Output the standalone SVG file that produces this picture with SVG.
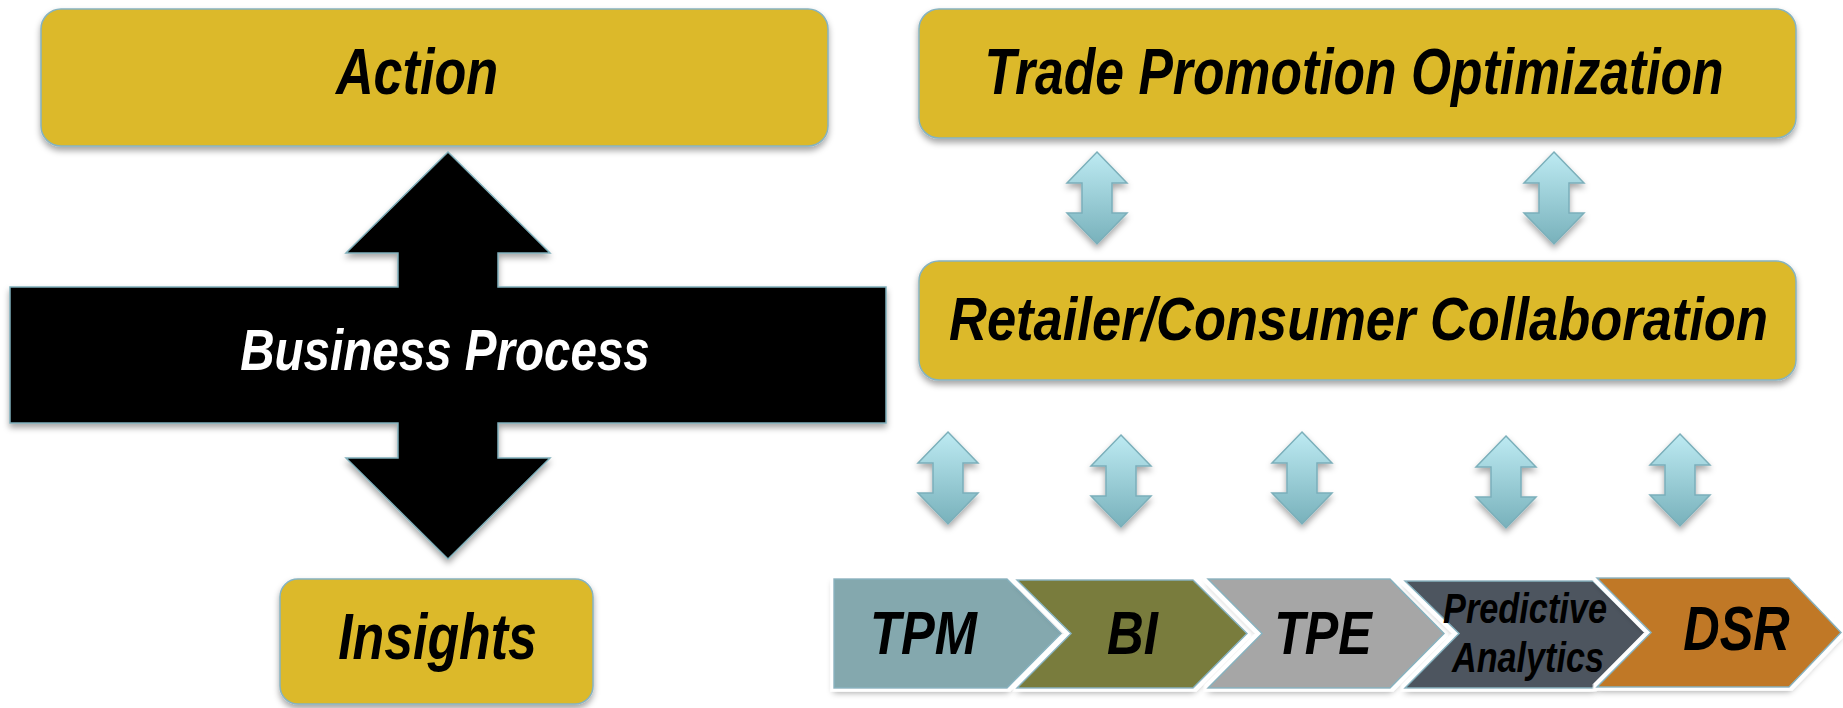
<svg xmlns="http://www.w3.org/2000/svg" xmlns:xlink="http://www.w3.org/1999/xlink" width="1843" height="708" viewBox="0 0 1843 708">
  <style>
    .box { fill: #DCB92C; stroke: #86B3C0; stroke-width: 1.5; }
    .lbl { font-family: "Liberation Sans", Arial, sans-serif; font-weight: bold; font-style: italic; fill: #000; text-anchor: middle; }
    .wlbl { fill: #fff; }
    .chev { stroke: #86B3C0; stroke-width: 1.5; }
    .dbl { fill: url(#dblGrad); stroke: #7BAFBA; stroke-width: 1.5; }
  </style>
  <defs>
    <filter id="shadow" x="-10%" y="-20%" width="120%" height="150%">
      <feDropShadow dx="0" dy="4" stdDeviation="3" flood-color="#000" flood-opacity="0.35"/>
    </filter>
    <filter id="chevShadow" x="-10%" y="-20%" width="120%" height="150%">
      <feMorphology in="SourceAlpha" operator="dilate" radius="3" result="halo"/>
      <feFlood flood-color="#fff"/>
      <feComposite in2="halo" operator="in" result="white"/>
      <feDropShadow in="SourceAlpha" dx="0" dy="4" stdDeviation="3" flood-color="#000" flood-opacity="0.35" result="drop"/>
      <feMerge>
        <feMergeNode in="drop"/>
        <feMergeNode in="white"/>
        <feMergeNode in="SourceGraphic"/>
      </feMerge>
    </filter>
    <linearGradient id="dblGrad" x1="0" y1="0" x2="0" y2="1">
      <stop offset="0" stop-color="#BDEAF2"/>
      <stop offset="1" stop-color="#78B1BB"/>
    </linearGradient>
    <!-- vertical double-headed arrow, top tip at origin -->
    <path id="dblArrow" class="dbl" d="M0,0 L30,31 L15,31 L15,61 L30,61 L0,92 L-30,61 L-15,61 L-15,31 L-30,31 Z"/>
  </defs>

  <!-- left column -->
  <g id="action">
    <rect class="box" x="41" y="9" width="787" height="137" rx="20" filter="url(#shadow)"/>
    <text class="lbl" transform="translate(417,94) scale(0.815,1)" font-size="64">Action</text>
  </g>

  <g id="business-process">
    <path d="M448,152 L550,253 L498,253 L498,287 L886,287 L886,423 L498,423 L498,458 L550,458 L448,559 L346,458 L398,458 L398,423 L10,423 L10,287 L398,287 L398,253 L346,253 Z" fill="#000" stroke="#7FAFBA" stroke-width="1.5" filter="url(#shadow)"/>
    <text class="lbl wlbl" transform="translate(445,370) scale(0.82,1)" font-size="58">Business Process</text>
  </g>

  <g id="insights">
    <rect class="box" x="280" y="579" width="313" height="125" rx="18" filter="url(#shadow)"/>
    <text class="lbl" transform="translate(437.5,659) scale(0.81,1)" font-size="64">Insights</text>
  </g>

  <!-- right column -->
  <g id="trade-promotion-optimization">
    <rect class="box" x="919" y="9" width="877" height="129" rx="20" filter="url(#shadow)"/>
    <text class="lbl" transform="translate(1354,94) scale(0.807,1)" font-size="64">Trade Promotion Optimization</text>
  </g>

  <g id="retailer-consumer-collaboration">
    <rect class="box" x="919" y="261" width="877" height="119" rx="20" filter="url(#shadow)"/>
    <text class="lbl" transform="translate(1358.5,340) scale(0.86,1)" font-size="61">Retailer/Consumer Collaboration</text>
  </g>

  <!-- process chevrons -->
  <g id="tpm">
    <path class="chev" fill="#84A8AE" d="M834,579 L1007,579 L1061,633.5 L1007,688 L834,688 Z" filter="url(#chevShadow)"/>
    <text class="lbl" transform="translate(923.5,654) scale(0.817,1)" font-size="62">TPM</text>
  </g>
  <g id="bi">
    <path class="chev" fill="#797B3C" d="M1017,580 L1193,580 L1247,633.5 L1193,688 L1017,688 L1071,633.5 Z" filter="url(#chevShadow)"/>
    <text class="lbl" transform="translate(1132.5,654) scale(0.82,1)" font-size="62">BI</text>
  </g>
  <g id="tpe">
    <path class="chev" fill="#A6A6A6" d="M1208,579 L1390,579 L1444,633.5 L1390,688 L1208,688 L1262,633.5 Z" filter="url(#chevShadow)"/>
    <text class="lbl" transform="translate(1323,654) scale(0.81,1)" font-size="62">TPE</text>
  </g>
  <g id="predictive-analytics">
    <path class="chev" fill="#4D555F" d="M1405,581 L1593,581 L1647,633.5 L1593,688 L1405,688 L1459,633.5 Z" filter="url(#chevShadow)"/>
    <text class="lbl" transform="translate(1525,623) scale(0.817,1)" font-size="42">Predictive</text>
    <text class="lbl" transform="translate(1528,672) scale(0.814,1)" font-size="42">Analytics</text>
  </g>
  <g id="dsr">
    <path class="chev" fill="#C07828" d="M1597,578 L1789,578 L1841,632.5 L1789,687 L1597,687 L1651,632.5 Z" filter="url(#chevShadow)"/>
    <text class="lbl" transform="translate(1736.5,650) scale(0.80,1)" font-size="63">DSR</text>
  </g>

  <!-- two-way links between layers -->
  <g id="connectors" filter="url(#shadow)">
    <use xlink:href="#dblArrow" x="1097" y="152"/>
    <use xlink:href="#dblArrow" x="1554" y="152"/>
    <use xlink:href="#dblArrow" x="948" y="432"/>
    <use xlink:href="#dblArrow" x="1121" y="435"/>
    <use xlink:href="#dblArrow" x="1302" y="432"/>
    <use xlink:href="#dblArrow" x="1506" y="436"/>
    <use xlink:href="#dblArrow" x="1680" y="434"/>
  </g>
</svg>
